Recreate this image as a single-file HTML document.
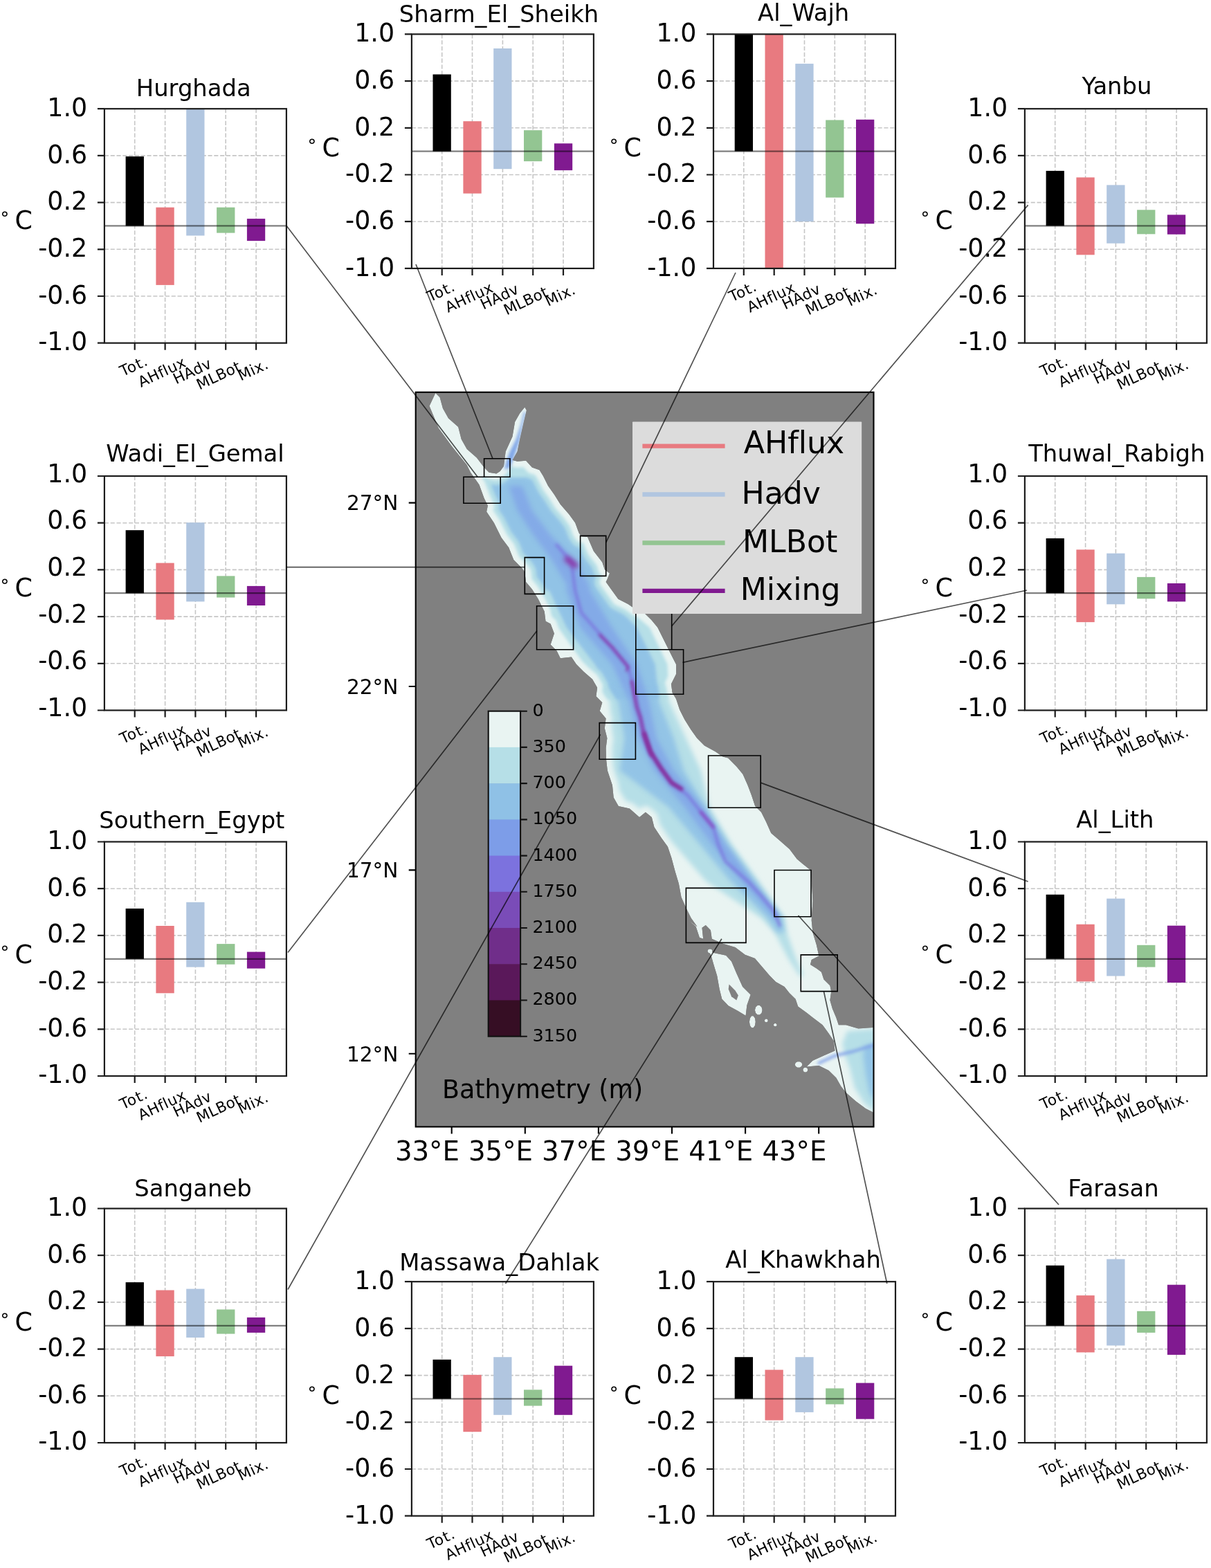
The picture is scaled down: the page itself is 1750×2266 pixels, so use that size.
<!DOCTYPE html>
<html lang="en"><head><meta charset="utf-8"><title>Red Sea mixed-layer heat budget</title>
<style>html,body{margin:0;padding:0;background:#fff;overflow:hidden}#fig{width:1750px;height:2266px;overflow:hidden}svg{display:block}</style></head><body><div id="fig">
<svg width="1750" height="2266" viewBox="0 0 1750 2266" font-family="'DejaVu Sans','Liberation Sans',sans-serif" fill="#000" style="font-variant-ligatures:none;font-kerning:normal">
<rect width="1750" height="2266" fill="#fff"/>
<g id="figure">
<g id="map">
<defs>
<clipPath id="mapclip"><rect x="600.7" y="566.8" width="661.8" height="1061.6"/></clipPath>
<clipPath id="seaclip"><path d="M629.3 568.0 L635.6 574.2 L640.0 590.2 L648.0 604.5 L662.2 616.9 L666.7 634.7 L674.7 648.9 L688.9 661.4 L699.6 675.6 L706.7 682.7 L717.4 684.5 L722.7 680.9 L728.0 673.8 L730.7 652.5 L740.5 631.1 L744.1 609.8 L751.2 597.3 L758.3 588.5 L760.9 592.9 L756.5 611.6 L751.2 634.7 L747.6 652.5 L740.5 664.9 L747.6 666.7 L760.1 665.8 L768.9 675.6 L779.6 679.2 L785.0 688.0 L792.1 702.3 L801.0 714.7 L809.9 728.9 L822.3 743.2 L831.2 755.6 L836.5 769.9 L840.1 775.2 L849.0 776.1 L857.9 796.5 L870.3 812.5 L873.9 823.2 L881.0 828.5 L877.4 837.4 L875.6 840.9 L884.5 853.4 L893.4 865.8 L907.6 872.9 L920.1 881.8 L930.7 885.4 L941.4 896.0 L950.3 906.7 L957.4 920.9 L964.5 935.2 L971.6 949.4 L977.0 960.1 L977.0 974.3 L969.9 988.5 L971.6 1001.0 L977.0 1009.9 L982.3 1025.9 L989.4 1040.1 L998.3 1054.3 L1007.2 1066.8 L1017.9 1077.4 L1033.9 1086.3 L1044.5 1093.4 L1052.1 1095.6 L1064.5 1108.0 L1073.4 1118.7 L1080.5 1134.7 L1085.9 1148.9 L1091.2 1164.9 L1100.1 1173.8 L1107.2 1188.0 L1114.3 1204.1 L1126.8 1214.7 L1141.0 1227.2 L1151.7 1241.4 L1160.0 1248.5 L1172.0 1258.0 L1174.5 1302.0 L1172.7 1330.0 L1174.5 1347.8 L1179.9 1365.6 L1183.4 1381.6 L1172.7 1386.9 L1171.0 1394.0 L1179.9 1399.4 L1187.0 1404.7 L1190.5 1415.4 L1199.4 1424.3 L1201.2 1433.1 L1199.4 1445.6 L1203.0 1458.0 L1208.3 1470.5 L1211.9 1481.2 L1222.5 1481.2 L1240.3 1486.5 L1265.2 1484.7 L1265.2 1609.2 L1251.0 1602.1 L1236.8 1591.4 L1222.5 1579.0 L1215.4 1570.1 L1208.3 1557.6 L1197.6 1547.0 L1183.4 1539.9 L1165.6 1541.6 L1174.5 1532.7 L1190.5 1525.6 L1206.5 1518.5 L1204.8 1504.3 L1197.6 1493.6 L1188.7 1481.2 L1174.5 1470.5 L1165.6 1463.4 L1153.2 1454.5 L1149.6 1443.8 L1140.7 1434.9 L1133.6 1426.0 L1121.2 1418.9 L1112.3 1410.0 L1101.6 1397.6 L1090.9 1385.1 L1076.7 1379.8 L1062.5 1369.1 L1044.7 1363.8 L1028.7 1356.7 L1026.9 1344.2 L1019.8 1337.1 L1014.5 1340.7 L1016.2 1356.7 L1010.9 1354.9 L1005.6 1338.9 L994.9 1330.0 L1007.6 1339.2 L998.7 1326.8 L991.6 1312.5 L984.5 1296.5 L980.9 1277.0 L975.6 1259.2 L970.3 1239.6 L964.9 1223.6 L956.0 1211.2 L945.4 1195.2 L941.8 1180.9 L932.9 1173.8 L924.0 1180.9 L909.8 1168.5 L893.8 1164.9 L886.7 1152.5 L884.9 1134.7 L877.8 1113.4 L876.0 1097.3 L875.6 1081.0 L877.4 1066.8 L873.8 1052.5 L875.6 1038.3 L866.7 1027.6 L870.3 1015.2 L861.4 1006.3 L863.1 993.8 L856.0 981.4 L843.6 970.7 L832.9 960.1 L825.8 949.4 L809.8 951.2 L804.5 940.5 L795.6 931.6 L800.9 915.6 L795.6 901.4 L788.5 897.8 L786.7 883.6 L777.8 865.8 L768.9 851.6 L760.0 840.9 L758.3 826.8 L754.7 821.4 L742.3 809.0 L735.2 791.2 L724.5 777.0 L713.8 755.6 L703.1 739.6 L704.9 730.7 L699.6 720.1 L692.5 700.5 L680.0 682.7 L674.7 672.0 L653.4 645.4 L633.8 618.7 L620.5 586.7ZM1023.4 1372.7 L1031.4 1377.1 L1049.1 1380.7 L1057.1 1389.6 L1064.3 1406.5 L1073.1 1426.0 L1084.7 1437.6 L1079.4 1452.7 L1077.6 1467.8 L1066.0 1460.7 L1052.7 1453.6 L1043.3 1443.8 L1039.7 1429.6 L1036.2 1410.0 L1030.8 1392.2 L1027.8 1381.6ZM1101.6 1459.8 L1100.6 1464.0 L1097.9 1466.6 L1094.6 1466.6 L1092.0 1464.0 L1090.9 1459.8 L1092.0 1455.6 L1094.6 1453.1 L1097.9 1453.1 L1100.6 1455.6ZM1091.8 1476.7 L1091.0 1481.9 L1088.7 1485.2 L1086.0 1485.2 L1083.8 1481.9 L1082.9 1476.7 L1083.8 1471.5 L1086.0 1468.3 L1088.7 1468.3 L1091.0 1471.5ZM1109.8 1474.9 L1109.3 1476.4 L1108.1 1477.3 L1106.5 1477.3 L1105.3 1476.4 L1104.8 1474.9 L1105.3 1473.5 L1106.5 1472.6 L1108.1 1472.6 L1109.3 1473.5ZM1122.8 1481.2 L1122.3 1482.4 L1121.0 1483.2 L1119.5 1483.2 L1118.3 1482.4 L1117.8 1481.2 L1118.3 1479.9 L1119.5 1479.1 L1121.0 1479.1 L1122.3 1479.9ZM1159.4 1538.4 L1158.4 1541.0 L1155.7 1542.7 L1152.4 1542.7 L1149.7 1541.0 L1148.7 1538.4 L1149.7 1535.8 L1152.4 1534.2 L1155.7 1534.2 L1158.4 1535.8ZM1167.4 1546.1 L1166.7 1548.2 L1164.9 1549.5 L1162.7 1549.5 L1161.0 1548.2 L1160.3 1546.1 L1161.0 1544.0 L1162.7 1542.7 L1164.9 1542.7 L1166.7 1544.0ZM1029.6 1374.5 L1028.9 1376.3 L1027.1 1377.5 L1024.9 1377.5 L1023.1 1376.3 L1022.5 1374.5 L1023.1 1372.6 L1024.9 1371.4 L1027.1 1371.4 L1028.9 1372.6Z"/></clipPath>
<filter id="b1" filterUnits="userSpaceOnUse" x="580" y="546" width="700" height="1100"><feGaussianBlur stdDeviation="5"/></filter>
<filter id="b2" filterUnits="userSpaceOnUse" x="580" y="546" width="700" height="1100"><feGaussianBlur stdDeviation="3.5"/></filter>
<filter id="b3" filterUnits="userSpaceOnUse" x="580" y="546" width="700" height="1100"><feGaussianBlur stdDeviation="2.2"/></filter>
<filter id="b0" filterUnits="userSpaceOnUse" x="580" y="546" width="700" height="1100"><feGaussianBlur stdDeviation="0.7"/></filter>
</defs>
<rect x="600.7" y="566.8" width="661.8" height="1061.6" fill="#808080"/>
<g clip-path="url(#mapclip)">
<g filter="url(#b0)">
<g clip-path="url(#seaclip)">
<path d="M629.3 568.0 L635.6 574.2 L640.0 590.2 L648.0 604.5 L662.2 616.9 L666.7 634.7 L674.7 648.9 L688.9 661.4 L699.6 675.6 L706.7 682.7 L717.4 684.5 L722.7 680.9 L728.0 673.8 L730.7 652.5 L740.5 631.1 L744.1 609.8 L751.2 597.3 L758.3 588.5 L760.9 592.9 L756.5 611.6 L751.2 634.7 L747.6 652.5 L740.5 664.9 L747.6 666.7 L760.1 665.8 L768.9 675.6 L779.6 679.2 L785.0 688.0 L792.1 702.3 L801.0 714.7 L809.9 728.9 L822.3 743.2 L831.2 755.6 L836.5 769.9 L840.1 775.2 L849.0 776.1 L857.9 796.5 L870.3 812.5 L873.9 823.2 L881.0 828.5 L877.4 837.4 L875.6 840.9 L884.5 853.4 L893.4 865.8 L907.6 872.9 L920.1 881.8 L930.7 885.4 L941.4 896.0 L950.3 906.7 L957.4 920.9 L964.5 935.2 L971.6 949.4 L977.0 960.1 L977.0 974.3 L969.9 988.5 L971.6 1001.0 L977.0 1009.9 L982.3 1025.9 L989.4 1040.1 L998.3 1054.3 L1007.2 1066.8 L1017.9 1077.4 L1033.9 1086.3 L1044.5 1093.4 L1052.1 1095.6 L1064.5 1108.0 L1073.4 1118.7 L1080.5 1134.7 L1085.9 1148.9 L1091.2 1164.9 L1100.1 1173.8 L1107.2 1188.0 L1114.3 1204.1 L1126.8 1214.7 L1141.0 1227.2 L1151.7 1241.4 L1160.0 1248.5 L1172.0 1258.0 L1174.5 1302.0 L1172.7 1330.0 L1174.5 1347.8 L1179.9 1365.6 L1183.4 1381.6 L1172.7 1386.9 L1171.0 1394.0 L1179.9 1399.4 L1187.0 1404.7 L1190.5 1415.4 L1199.4 1424.3 L1201.2 1433.1 L1199.4 1445.6 L1203.0 1458.0 L1208.3 1470.5 L1211.9 1481.2 L1222.5 1481.2 L1240.3 1486.5 L1265.2 1484.7 L1265.2 1609.2 L1251.0 1602.1 L1236.8 1591.4 L1222.5 1579.0 L1215.4 1570.1 L1208.3 1557.6 L1197.6 1547.0 L1183.4 1539.9 L1165.6 1541.6 L1174.5 1532.7 L1190.5 1525.6 L1206.5 1518.5 L1204.8 1504.3 L1197.6 1493.6 L1188.7 1481.2 L1174.5 1470.5 L1165.6 1463.4 L1153.2 1454.5 L1149.6 1443.8 L1140.7 1434.9 L1133.6 1426.0 L1121.2 1418.9 L1112.3 1410.0 L1101.6 1397.6 L1090.9 1385.1 L1076.7 1379.8 L1062.5 1369.1 L1044.7 1363.8 L1028.7 1356.7 L1026.9 1344.2 L1019.8 1337.1 L1014.5 1340.7 L1016.2 1356.7 L1010.9 1354.9 L1005.6 1338.9 L994.9 1330.0 L1007.6 1339.2 L998.7 1326.8 L991.6 1312.5 L984.5 1296.5 L980.9 1277.0 L975.6 1259.2 L970.3 1239.6 L964.9 1223.6 L956.0 1211.2 L945.4 1195.2 L941.8 1180.9 L932.9 1173.8 L924.0 1180.9 L909.8 1168.5 L893.8 1164.9 L886.7 1152.5 L884.9 1134.7 L877.8 1113.4 L876.0 1097.3 L875.6 1081.0 L877.4 1066.8 L873.8 1052.5 L875.6 1038.3 L866.7 1027.6 L870.3 1015.2 L861.4 1006.3 L863.1 993.8 L856.0 981.4 L843.6 970.7 L832.9 960.1 L825.8 949.4 L809.8 951.2 L804.5 940.5 L795.6 931.6 L800.9 915.6 L795.6 901.4 L788.5 897.8 L786.7 883.6 L777.8 865.8 L768.9 851.6 L760.0 840.9 L758.3 826.8 L754.7 821.4 L742.3 809.0 L735.2 791.2 L724.5 777.0 L713.8 755.6 L703.1 739.6 L704.9 730.7 L699.6 720.1 L692.5 700.5 L680.0 682.7 L674.7 672.0 L653.4 645.4 L633.8 618.7 L620.5 586.7ZM1023.4 1372.7 L1031.4 1377.1 L1049.1 1380.7 L1057.1 1389.6 L1064.3 1406.5 L1073.1 1426.0 L1084.7 1437.6 L1079.4 1452.7 L1077.6 1467.8 L1066.0 1460.7 L1052.7 1453.6 L1043.3 1443.8 L1039.7 1429.6 L1036.2 1410.0 L1030.8 1392.2 L1027.8 1381.6ZM1101.6 1459.8 L1100.6 1464.0 L1097.9 1466.6 L1094.6 1466.6 L1092.0 1464.0 L1090.9 1459.8 L1092.0 1455.6 L1094.6 1453.1 L1097.9 1453.1 L1100.6 1455.6ZM1091.8 1476.7 L1091.0 1481.9 L1088.7 1485.2 L1086.0 1485.2 L1083.8 1481.9 L1082.9 1476.7 L1083.8 1471.5 L1086.0 1468.3 L1088.7 1468.3 L1091.0 1471.5ZM1109.8 1474.9 L1109.3 1476.4 L1108.1 1477.3 L1106.5 1477.3 L1105.3 1476.4 L1104.8 1474.9 L1105.3 1473.5 L1106.5 1472.6 L1108.1 1472.6 L1109.3 1473.5ZM1122.8 1481.2 L1122.3 1482.4 L1121.0 1483.2 L1119.5 1483.2 L1118.3 1482.4 L1117.8 1481.2 L1118.3 1479.9 L1119.5 1479.1 L1121.0 1479.1 L1122.3 1479.9ZM1159.4 1538.4 L1158.4 1541.0 L1155.7 1542.7 L1152.4 1542.7 L1149.7 1541.0 L1148.7 1538.4 L1149.7 1535.8 L1152.4 1534.2 L1155.7 1534.2 L1158.4 1535.8ZM1167.4 1546.1 L1166.7 1548.2 L1164.9 1549.5 L1162.7 1549.5 L1161.0 1548.2 L1160.3 1546.1 L1161.0 1544.0 L1162.7 1542.7 L1164.9 1542.7 L1166.7 1544.0ZM1029.6 1374.5 L1028.9 1376.3 L1027.1 1377.5 L1024.9 1377.5 L1023.1 1376.3 L1022.5 1374.5 L1023.1 1372.6 L1024.9 1371.4 L1027.1 1371.4 L1028.9 1372.6Z" fill="#e9f4f2"/>
<path d="M700.3 696.0 L700.6 696.7 L700.9 697.4 L707.9 716.5 L713.0 726.7 L713.3 727.5 L713.6 728.3 L713.8 729.1 L713.9 730.0 L713.9 730.8 L713.9 731.7 L713.8 732.5 L712.7 737.7 L721.3 750.6 L721.9 751.6 L732.2 772.2 L742.4 785.8 L742.8 786.4 L743.2 787.1 L743.5 787.9 L749.9 803.9 L761.1 815.1 L761.7 815.7 L762.2 816.4 L765.8 821.8 L766.2 822.5 L766.6 823.2 L766.9 824.0 L767.1 824.8 L767.2 825.7 L768.6 837.2 L775.8 845.8 L776.5 846.8 L785.4 861.0 L785.8 861.8 L794.7 879.6 L795.1 880.5 L795.4 881.5 L795.6 882.5 L796.3 888.3 L799.0 893.0 L799.6 893.3 L800.3 893.7 L801.0 894.2 L801.7 894.7 L802.3 895.3 L802.8 896.0 L803.3 896.7 L803.7 897.4 L804.0 898.2 L807.8 908.5 L841.6 956.0 L849.7 964.1 L861.9 974.6 L862.6 975.3 L863.3 976.1 L863.8 976.9 L871.0 989.4 L871.3 990.1 L871.7 990.9 L871.9 991.7 L872.1 992.6 L872.1 993.4 L872.1 994.3 L872.1 995.1 L871.4 999.5 L878.6 1010.0 L966.6 1010.0 L963.9 1005.6 L963.5 1004.8 L963.1 1004.0 L962.9 1003.1 L962.7 1002.2 L960.9 989.8 L960.9 988.9 L960.9 988.0 L961.0 987.1 L961.2 986.2 L961.4 985.3 L961.8 984.5 L965.4 977.3 L964.5 960.1 L938.9 907.1 L938.2 906.3 L920.8 891.5 L917.2 890.3 L916.4 890.0 L915.6 889.6 L914.8 889.1 L903.0 880.6 L889.4 873.9 L888.6 873.4 L887.9 872.9 L887.2 872.4 L886.6 871.7 L886.1 871.0 L877.2 858.6 L868.3 846.1 L867.8 845.4 L867.4 844.6 L867.0 843.7 L866.8 842.8 L866.7 842.0 L866.6 841.1 L866.6 840.1 L866.7 839.3 L867.0 838.4 L867.3 837.5 L867.6 836.7 L869.3 833.6 L870.1 831.6 L868.5 830.4 L867.8 829.8 L867.1 829.2 L866.6 828.5 L866.1 827.7 L865.7 826.9 L865.3 826.1 L862.3 816.8 L850.8 802.1 L850.3 801.4 L849.9 800.8 L849.6 800.1 L842.8 784.5 L839.2 784.1 L838.3 784.0 L837.5 783.8 L836.6 783.5 L835.8 783.1 L835.1 782.7 L834.4 782.1 L833.7 781.5 L833.1 780.9 L832.6 780.2 L829.0 774.8 L828.5 774.0 L828.1 773.0 L823.2 759.9 L815.2 748.8 L803.1 734.9 L802.6 734.3 L802.2 733.7 L793.5 719.7 L784.7 707.5 L784.4 706.9 L784.0 706.3 L777.1 692.4 L773.6 686.6 L766.1 684.1 L765.2 683.8 L764.4 683.4 L763.7 682.9 L762.9 682.3 L762.3 681.7 L756.3 675.1 L748.2 675.7 L747.3 675.7 L746.4 675.6 L745.4 675.4 L738.3 673.7 L737.5 673.4 L737.2 673.3 L737.0 674.9 L736.8 675.9 L736.6 676.8 L736.2 677.6 L735.8 678.4 L735.2 679.2 L729.9 686.3 L729.3 687.1 L728.5 687.8 L727.7 688.4 L722.4 692.0 L721.6 692.4 L720.9 692.8 L720.1 693.1 L719.3 693.3 L718.4 693.4 L717.6 693.5 L716.7 693.5 L715.9 693.4 L705.2 691.6 L704.3 691.4 L703.4 691.1 L702.6 690.7 L701.8 690.2 L701.0 689.7 L700.3 689.1 L699.3 688.0 L696.1 690.0 L699.9 695.3 L700.3 696.0Z" fill="#b6dfe7" filter="url(#b3)" opacity="1"/>
<path d="M871.3 990.1 L871.7 990.9 L871.9 991.7 L872.1 992.6 L872.1 993.4 L872.1 994.3 L872.1 995.1 L871.4 999.5 L880.9 1013.4 L882.5 1032.6 L883.1 1033.3 L883.5 1034.1 L883.9 1034.9 L884.2 1035.8 L884.4 1036.7 L884.6 1037.6 L884.6 1038.5 L884.5 1039.4 L883.7 1046.3 L884.7 1059.1 L886.1 1064.6 L886.3 1065.4 L886.4 1066.2 L886.4 1067.0 L886.3 1067.9 L884.6 1081.4 L885.0 1096.7 L886.6 1111.4 L893.4 1131.8 L893.7 1132.8 L893.9 1133.8 L894.6 1141.4 L904.6 1158.1 L911.7 1159.7 L912.6 1159.9 L913.5 1160.3 L914.3 1160.7 L915.0 1161.2 L915.7 1161.7 L924.3 1169.2 L927.3 1166.8 L928.0 1166.3 L928.7 1165.8 L929.5 1165.5 L930.3 1165.2 L931.2 1165.0 L932.0 1164.9 L932.9 1164.8 L933.8 1164.9 L934.6 1165.0 L935.5 1165.2 L936.3 1165.5 L937.1 1165.8 L937.8 1166.3 L938.5 1166.8 L947.4 1173.9 L948.1 1174.5 L948.6 1175.1 L949.1 1175.7 L949.6 1176.4 L950.0 1177.2 L950.3 1177.9 L950.5 1178.7 L953.7 1191.5 L963.4 1206.1 L972.2 1218.4 L972.7 1219.1 L972.7 1219.2 L973.8 1220.1 L1020.1 1273.4 L1100.1 1326.8 L1119.4 1347.8 L1138.1 1383.4 L1155.0 1410.0 L1161.2 1410.0 L1149.6 1383.4 L1137.2 1347.8 L1133.9 1326.8 L1096.5 1273.4 L1057.4 1220.1 L1025.4 1166.7 L1012.9 1113.4 L991.2 1066.8 L977.7 1036.8 L974.3 1029.9 L973.8 1028.7 L972.9 1026.1 L967.2 1013.4 L967.1 1010.8 L963.9 1005.6 L963.5 1004.8 L963.1 1004.0 L962.9 1003.1 L962.7 1002.2 L961.0 990.0 L871.3 990.0 L871.3 990.1ZM1224.3 1490.1 L1265.2 1486.5 L1265.2 1607.4 L1249.2 1595.0 L1235.0 1571.9 L1227.9 1543.4 L1220.8 1525.6 L1217.2 1507.8Z" fill="#b6dfe7" filter="url(#b2)" opacity="1"/>
<path d="M719.7 723.3 L720.3 724.8 L720.8 726.3 L721.2 727.8 L721.4 729.3 L721.4 730.9 L721.3 732.4 L721.1 734.0 L720.7 736.2 L727.5 746.5 L728.6 748.2 L738.6 768.3 L748.4 781.3 L749.2 782.5 L749.9 783.7 L750.5 785.1 L756.3 799.7 L766.4 809.8 L767.5 811.0 L768.5 812.3 L772.0 817.6 L772.8 818.9 L773.5 820.3 L774.0 821.8 L774.4 823.2 L774.7 824.8 L775.8 834.1 L781.6 841.0 L782.9 842.8 L788.9 852.5 L793.8 853.4 L818.7 906.7 L859.6 960.1 L863.3 965.9 L866.8 968.9 L868.1 970.2 L869.3 971.6 L870.4 973.2 L877.5 985.7 L878.2 987.0 L878.8 988.5 L879.2 990.0 L879.5 991.4 L891.2 1010.0 L951.7 1010.0 L946.7 960.1 L920.1 906.7 L905.6 891.8 L899.1 887.1 L886.0 880.6 L884.6 879.8 L883.3 878.9 L882.1 877.8 L881.0 876.7 L880.0 875.4 L871.1 862.9 L862.2 850.5 L861.3 849.1 L860.5 847.6 L859.9 846.1 L859.5 844.5 L859.2 842.8 L859.1 841.2 L859.2 839.5 L859.4 837.9 L859.8 836.3 L860.3 834.7 L860.9 833.4 L860.5 832.9 L859.6 831.5 L858.8 830.0 L858.2 828.4 L855.6 820.4 L844.8 806.7 L844.0 805.5 L843.3 804.3 L842.7 803.1 L837.7 791.5 L836.8 791.4 L835.3 791.0 L833.8 790.4 L832.3 789.7 L830.9 788.9 L829.6 787.9 L828.4 786.8 L827.3 785.6 L826.4 784.3 L822.8 779.0 L821.8 777.4 L821.1 775.6 L816.5 763.5 L809.3 753.4 L797.4 739.8 L796.6 738.8 L795.9 737.7 L787.2 723.9 L778.6 711.9 L777.9 710.8 L777.3 709.7 L770.5 696.0 L768.6 692.9 L763.7 691.2 L762.2 690.6 L760.9 690.0 L736.5 690.0 L735.9 690.8 L734.7 692.3 L733.4 693.5 L731.9 694.7 L726.5 698.2 L725.2 699.0 L723.8 699.7 L722.3 700.2 L720.8 700.6 L719.3 700.9 L717.8 701.0 L716.2 700.9 L714.7 700.8 L709.8 700.0 L714.8 713.5 L719.7 723.3Z" fill="#8fc1e6" filter="url(#b3)" opacity="0.92"/>
<path d="M879.5 991.4 L893.4 1013.4 L902.3 1066.8 L895.6 1113.4 L966.7 1166.7 L1011.2 1220.1 L1055.6 1273.4 L1109.0 1326.8 L1122.9 1347.8 L1133.6 1347.8 L1130.3 1326.8 L1091.2 1273.4 L1052.1 1220.1 L1020.1 1166.7 L988.0 1113.4 L973.4 1066.8 L952.1 1013.4 L949.7 990.0 L879.2 990.0 L879.5 991.4ZM1249.2 1511.4 L1265.2 1507.8 L1265.2 1593.2 L1256.3 1579.0 L1251.0 1552.3 L1247.4 1525.6Z" fill="#8fc1e6" filter="url(#b2)" opacity="0.9"/>
<path d="M757.4 593.8 L752.9 613.4 L745.8 634.7 L736.9 652.5 L731.6 666.7 L728.9 679.2 L736.9 675.6 L743.2 659.6 L750.3 638.3 L755.1 616.9 L759.7 597.3Z" fill="#7fa6e8" filter="url(#b3)" opacity="1"/>
<path d="M747.6 737.8 L770.7 773.4 L797.4 809.0 L818.7 844.5 L818.7 853.4 L838.3 906.7 L884.5 960.1 L909.4 1013.4 L921.8 1066.8 L945.4 1113.4 L989.8 1166.7 L1028.9 1220.1 L1071.6 1273.4 L1118.8 1326.8 L1128.5 1326.8 L1087.6 1273.4 L1048.5 1220.1 L1016.5 1166.7 L973.8 1113.4 L948.5 1066.8 L937.8 1013.4 L920.1 960.1 L884.5 906.7 L852.5 853.4 L850.8 844.5 L831.2 809.0 L795.6 773.4 L768.9 737.8 L754.7 702.3 L735.2 702.3 L747.6 737.8Z" fill="#7d9de8" filter="url(#b2)" opacity="0.65"/>
<path d="M804.5 787.6 L825.9 812.5 L831.1 853.4 L840.0 885.4 L875.6 926.3 L907.6 963.6 L914.7 988.5 L923.6 1031.2 L932.5 1066.8 L940.0 1086.7 L956.0 1111.6 L970.3 1131.1 L993.4 1148.9 L1014.7 1175.6 L1030.7 1195.2 L1037.8 1220.1 L1048.5 1245.0 L1064.5 1259.2 L1082.3 1275.2 L1100.1 1294.8 L1117.9 1316.1 L1126.8 1337.4" fill="none" stroke="#7c72de" stroke-width="4.5" stroke-linecap="round" stroke-linejoin="round" filter="url(#b3)" opacity="0.75"/>
<path d="M819.6 808.1 L831.2 817.0" fill="none" stroke="#8a3aa8" stroke-width="9" stroke-linecap="round" stroke-linejoin="round" filter="url(#b2)" opacity="1"/>
<path d="M866.7 917.4 L884.5 935.2 L907.6 963.6 L905.8 968.9" fill="none" stroke="#8a3aa8" stroke-width="3.5" stroke-linecap="round" stroke-linejoin="round" filter="url(#b3)" opacity="0.9"/>
<path d="M912.9 985.0 L920.1 1022.3 L925.4 1036.5 L930.7 1063.2 L941.4 1091.7" fill="none" stroke="#8a3aa8" stroke-width="4.5" stroke-linecap="round" stroke-linejoin="round" filter="url(#b3)" opacity="0.9"/>
<path d="M931.1 1060.0 L940.0 1086.7 L956.0 1111.6 L970.3 1131.1 L984.5 1140.0" fill="none" stroke="#862f9c" stroke-width="6" stroke-linecap="round" stroke-linejoin="round" filter="url(#b3)" opacity="1"/>
<path d="M1012.9 1173.8 L1030.7 1195.2" fill="none" stroke="#8a4ac0" stroke-width="4.5" stroke-linecap="round" stroke-linejoin="round" filter="url(#b3)" opacity="0.8"/>
<path d="M1183.4 1536.3 L1206.5 1525.6 L1229.6 1520.3 L1265.2 1509.6" fill="none" stroke="#7d9de8" stroke-width="4" stroke-linecap="round" stroke-linejoin="round" filter="url(#b3)" opacity="0.9"/>
</g>
<path d="M1053.6 1422.5 L1062.5 1431.4 L1066.9 1438.5 L1064.3 1445.6 L1057.1 1440.3 L1052.7 1429.6Z" fill="#808080"/>
</g>
<path d="M699.6 662.8H737.0V689.2H699.6ZM669.9 689.2H723.2V727.3H669.9ZM838.6 774.4H875.7V832.4H838.6ZM758.3 805.6H786.6V858.4H758.3ZM775.6 875.7H828.6V938.7H775.6ZM918.8 880.0H970.7V938.7H918.8ZM918.8 938.7H987.6V1003.3H918.8ZM866.2 1044.6H918.4V1097.3H866.2ZM1023.6 1092.0H1099.2V1167.2H1023.6ZM1119.0 1257.5H1172.0V1324.8H1119.0ZM991.4 1283.4H1078.0V1362.4H991.4ZM1157.3 1379.9H1210.2V1432.6H1157.3Z" fill="none" stroke="#000" stroke-width="1.6"/>
<rect x="705.7" y="1027.70" width="46.4" height="52.82" fill="#e9f4f2"/>
<rect x="705.7" y="1079.92" width="46.4" height="52.82" fill="#b6dfe7"/>
<rect x="705.7" y="1132.14" width="46.4" height="52.82" fill="#8fc1e6"/>
<rect x="705.7" y="1184.37" width="46.4" height="52.82" fill="#7d9de8"/>
<rect x="705.7" y="1236.59" width="46.4" height="52.82" fill="#7c72de"/>
<rect x="705.7" y="1288.81" width="46.4" height="52.82" fill="#7a4cb8"/>
<rect x="705.7" y="1341.03" width="46.4" height="52.82" fill="#702e8a"/>
<rect x="705.7" y="1393.26" width="46.4" height="52.82" fill="#5a185a"/>
<rect x="705.7" y="1445.48" width="46.4" height="52.22" fill="#360e24"/>
<rect x="705.7" y="1027.7" width="46.4" height="470.0" fill="none" stroke="#111" stroke-width="2.1"/>
<path d="M752.1 1027.7h9.7M752.1 1079.9h9.7M752.1 1132.1h9.7M752.1 1184.4h9.7M752.1 1236.6h9.7M752.1 1288.8h9.7M752.1 1341.0h9.7M752.1 1393.3h9.7M752.1 1445.5h9.7M752.1 1497.7h9.7" stroke="#111" stroke-width="2.1" fill="none"/>
<text x="769.4" y="1034.6" font-size="25.5">0</text>
<text x="769.4" y="1086.8" font-size="25.5">350</text>
<text x="769.4" y="1139.0" font-size="25.5">700</text>
<text x="769.4" y="1191.3" font-size="25.5">1050</text>
<text x="769.4" y="1243.5" font-size="25.5">1400</text>
<text x="769.4" y="1295.7" font-size="25.5">1750</text>
<text x="769.4" y="1347.9" font-size="25.5">2100</text>
<text x="769.4" y="1400.2" font-size="25.5">2450</text>
<text x="769.4" y="1452.4" font-size="25.5">2800</text>
<text x="769.4" y="1504.6" font-size="25.5">3150</text>
<text x="639" y="1586.5" font-size="36.4">Bathymetry (m)</text>
<rect x="914.0" y="609.4" width="331.2" height="277.6" rx="0.8" fill="#dcdcdc"/>
<path d="M928.4 644.6H1047.6" stroke="#e87a80" stroke-width="6.4" fill="none"/>
<text x="1074.8" y="654.8" font-size="44.2">AHflux</text>
<path d="M928.4 714.5H1047.6" stroke="#b1c6e0" stroke-width="6.4" fill="none"/>
<text x="1071.5" y="727.9" font-size="44.2">Hadv</text>
<path d="M928.4 784.5H1047.6" stroke="#93c592" stroke-width="6.4" fill="none"/>
<text x="1073.0" y="798.1" font-size="44.2">MLBot</text>
<path d="M928.4 853.9H1047.6" stroke="#801a90" stroke-width="6.4" fill="none"/>
<text x="1069.7" y="866.9" font-size="44.2">Mixing</text>
</g>
<rect x="600.7" y="566.8" width="661.8" height="1061.6" fill="none" stroke="#000" stroke-width="2.1"/>
<text x="617.4" y="1676.6" font-size="38.7" text-anchor="middle">33°E</text>
<text x="723.5" y="1676.6" font-size="38.7" text-anchor="middle">35°E</text>
<text x="829.6" y="1676.6" font-size="38.7" text-anchor="middle">37°E</text>
<text x="935.7" y="1676.6" font-size="38.7" text-anchor="middle">39°E</text>
<text x="1041.8" y="1676.6" font-size="38.7" text-anchor="middle">41°E</text>
<text x="1147.9" y="1676.6" font-size="38.7" text-anchor="middle">43°E</text>
<text x="575.5" y="737.4" font-size="29.6" text-anchor="end">27°N</text>
<text x="575.5" y="1002.8" font-size="29.6" text-anchor="end">22°N</text>
<text x="575.5" y="1268.2" font-size="29.6" text-anchor="end">17°N</text>
<text x="575.5" y="1533.6" font-size="29.6" text-anchor="end">12°N</text>
<path d="M652.7 1628.4v10M758.8 1628.4v10M864.9 1628.4v10M971.0 1628.4v10M1077.1 1628.4v10M1183.2 1628.4v10M600.7 726.6h-10M600.7 992.0h-10M600.7 1257.4h-10M600.7 1522.8h-10" stroke="#000" stroke-width="2.1" fill="none"/>
</g>
<g class="panel">
<rect x="150.9" y="157.2" width="263.0" height="338.5" fill="#fff"/>
<path d="M194.7 157.2V495.7M238.6 157.2V495.7M282.4 157.2V495.7M326.2 157.2V495.7M370.1 157.2V495.7M150.9 224.9H413.9M150.9 292.6H413.9M150.9 360.3H413.9M150.9 428.0H413.9" fill="none" stroke="#b0b0b0" stroke-width="1.6" stroke-dasharray="6.1 2.7" opacity="0.72"/>
<rect x="181.6" y="226.1" width="26.3" height="100.4" fill="#000000"/>
<rect x="225.4" y="299.7" width="26.3" height="112.2" fill="#e87a80"/>
<rect x="269.2" y="157.2" width="26.3" height="183.3" fill="#b1c6e0"/>
<rect x="313.1" y="299.7" width="26.3" height="36.9" fill="#93c592"/>
<rect x="356.9" y="316.1" width="26.3" height="32.0" fill="#801a90"/>
<path d="M150.9 326.4H413.9" stroke="#000" stroke-opacity="0.5" stroke-width="2.2" fill="none"/>
<rect x="150.9" y="157.2" width="263.0" height="338.5" fill="none" stroke="#1c1c1c" stroke-width="2.2"/>
<path d="M194.7 495.7v10M238.6 495.7v10M282.4 495.7v10M326.2 495.7v10M370.1 495.7v10M150.9 157.2h-10M150.9 224.9h-10M150.9 292.6h-10M150.9 360.3h-10M150.9 428.0h-10M150.9 495.7h-10" stroke="#1c1c1c" stroke-width="2.2" fill="none"/>
<text x="126.2" y="167.8" font-size="36.4" text-anchor="end">1.0</text>
<text x="126.2" y="235.5" font-size="36.4" text-anchor="end">0.6</text>
<text x="126.2" y="303.2" font-size="36.4" text-anchor="end">0.2</text>
<text x="126.2" y="370.9" font-size="36.4" text-anchor="end">-0.2</text>
<text x="126.2" y="438.6" font-size="36.4" text-anchor="end">-0.6</text>
<text x="126.2" y="506.3" font-size="36.4" text-anchor="end">-1.0</text>
<text transform="translate(196.6,535.5) rotate(-25)" font-size="21.5" text-anchor="middle" letter-spacing="1.0">Tot.</text>
<text transform="translate(237.1,544.3) rotate(-25)" font-size="21.5" text-anchor="middle" letter-spacing="0.5">AHflux</text>
<text transform="translate(280.9,543.1) rotate(-25)" font-size="21.5" text-anchor="middle" letter-spacing="0.4">HAdv</text>
<text transform="translate(318.9,549.3) rotate(-25)" font-size="21.5" text-anchor="middle" letter-spacing="0.2">MLBot</text>
<text transform="translate(368.8,541.2) rotate(-25)" font-size="21.5" text-anchor="middle" letter-spacing="0.4">Mix.</text>
<text x="279.7" y="138.9" font-size="33.8" text-anchor="middle">Hurghada</text>
<text x="21.5" y="330.9" font-size="36.4">C</text>
<text x="0.6" y="323.9" font-size="25.5">°</text>
</g>
<g class="panel">
<rect x="594.9" y="49.4" width="263.0" height="338.5" fill="#fff"/>
<path d="M638.7 49.4V387.9M682.5 49.4V387.9M726.4 49.4V387.9M770.2 49.4V387.9M814.0 49.4V387.9M594.9 117.1H857.9M594.9 184.8H857.9M594.9 252.5H857.9M594.9 320.2H857.9" fill="none" stroke="#b0b0b0" stroke-width="1.6" stroke-dasharray="6.1 2.7" opacity="0.72"/>
<rect x="625.5" y="107.5" width="26.3" height="111.2" fill="#000000"/>
<rect x="669.4" y="175.2" width="26.3" height="104.4" fill="#e87a80"/>
<rect x="713.2" y="70.0" width="26.3" height="174.2" fill="#b1c6e0"/>
<rect x="757.0" y="188.2" width="26.3" height="44.9" fill="#93c592"/>
<rect x="800.9" y="207.3" width="26.3" height="38.8" fill="#801a90"/>
<path d="M594.9 218.7H857.9" stroke="#000" stroke-opacity="0.5" stroke-width="2.2" fill="none"/>
<rect x="594.9" y="49.4" width="263.0" height="338.5" fill="none" stroke="#1c1c1c" stroke-width="2.2"/>
<path d="M638.7 387.9v10M682.5 387.9v10M726.4 387.9v10M770.2 387.9v10M814.0 387.9v10M594.9 49.4h-10M594.9 117.1h-10M594.9 184.8h-10M594.9 252.5h-10M594.9 320.2h-10M594.9 387.9h-10" stroke="#1c1c1c" stroke-width="2.2" fill="none"/>
<text x="570.1" y="60.3" font-size="36.4" text-anchor="end">1.0</text>
<text x="570.1" y="128.0" font-size="36.4" text-anchor="end">0.6</text>
<text x="570.1" y="195.7" font-size="36.4" text-anchor="end">0.2</text>
<text x="570.1" y="263.4" font-size="36.4" text-anchor="end">-0.2</text>
<text x="570.1" y="331.1" font-size="36.4" text-anchor="end">-0.6</text>
<text x="570.1" y="398.8" font-size="36.4" text-anchor="end">-1.0</text>
<text transform="translate(640.6,427.7) rotate(-25)" font-size="21.5" text-anchor="middle" letter-spacing="1.0">Tot.</text>
<text transform="translate(681.0,436.5) rotate(-25)" font-size="21.5" text-anchor="middle" letter-spacing="0.5">AHflux</text>
<text transform="translate(724.9,435.3) rotate(-25)" font-size="21.5" text-anchor="middle" letter-spacing="0.4">HAdv</text>
<text transform="translate(762.9,441.5) rotate(-25)" font-size="21.5" text-anchor="middle" letter-spacing="0.2">MLBot</text>
<text transform="translate(812.7,433.4) rotate(-25)" font-size="21.5" text-anchor="middle" letter-spacing="0.4">Mix.</text>
<text x="721.0" y="31.9" font-size="33.8" text-anchor="middle">Sharm_El_Sheikh</text>
<text x="465.5" y="225.9" font-size="36.4">C</text>
<text x="444.6" y="218.9" font-size="25.5">°</text>
</g>
<g class="panel">
<rect x="1031.0" y="49.4" width="263.0" height="338.5" fill="#fff"/>
<path d="M1074.8 49.4V387.9M1118.7 49.4V387.9M1162.5 49.4V387.9M1206.3 49.4V387.9M1250.2 49.4V387.9M1031.0 117.1H1294.0M1031.0 184.8H1294.0M1031.0 252.5H1294.0M1031.0 320.2H1294.0" fill="none" stroke="#b0b0b0" stroke-width="1.6" stroke-dasharray="6.1 2.7" opacity="0.72"/>
<rect x="1061.7" y="49.4" width="26.3" height="169.2" fill="#000000"/>
<rect x="1105.5" y="49.4" width="26.3" height="338.5" fill="#e87a80"/>
<rect x="1149.3" y="92.1" width="26.3" height="228.0" fill="#b1c6e0"/>
<rect x="1193.2" y="173.5" width="26.3" height="112.0" fill="#93c592"/>
<rect x="1237.0" y="172.8" width="26.3" height="150.5" fill="#801a90"/>
<path d="M1031.0 218.7H1294.0" stroke="#000" stroke-opacity="0.5" stroke-width="2.2" fill="none"/>
<rect x="1031.0" y="49.4" width="263.0" height="338.5" fill="none" stroke="#1c1c1c" stroke-width="2.2"/>
<path d="M1074.8 387.9v10M1118.7 387.9v10M1162.5 387.9v10M1206.3 387.9v10M1250.2 387.9v10M1031.0 49.4h-10M1031.0 117.1h-10M1031.0 184.8h-10M1031.0 252.5h-10M1031.0 320.2h-10M1031.0 387.9h-10" stroke="#1c1c1c" stroke-width="2.2" fill="none"/>
<text x="1006.3" y="60.3" font-size="36.4" text-anchor="end">1.0</text>
<text x="1006.3" y="128.0" font-size="36.4" text-anchor="end">0.6</text>
<text x="1006.3" y="195.7" font-size="36.4" text-anchor="end">0.2</text>
<text x="1006.3" y="263.4" font-size="36.4" text-anchor="end">-0.2</text>
<text x="1006.3" y="331.1" font-size="36.4" text-anchor="end">-0.6</text>
<text x="1006.3" y="398.8" font-size="36.4" text-anchor="end">-1.0</text>
<text transform="translate(1076.7,427.7) rotate(-25)" font-size="21.5" text-anchor="middle" letter-spacing="1.0">Tot.</text>
<text transform="translate(1117.2,436.5) rotate(-25)" font-size="21.5" text-anchor="middle" letter-spacing="0.5">AHflux</text>
<text transform="translate(1161.0,435.3) rotate(-25)" font-size="21.5" text-anchor="middle" letter-spacing="0.4">HAdv</text>
<text transform="translate(1199.0,441.5) rotate(-25)" font-size="21.5" text-anchor="middle" letter-spacing="0.2">MLBot</text>
<text transform="translate(1248.9,433.4) rotate(-25)" font-size="21.5" text-anchor="middle" letter-spacing="0.4">Mix.</text>
<text x="1161.2" y="30.1" font-size="33.8" text-anchor="middle">Al_Wajh</text>
<text x="901.6" y="225.9" font-size="36.4">C</text>
<text x="880.7" y="218.9" font-size="25.5">°</text>
</g>
<g class="panel">
<rect x="1480.9" y="157.2" width="263.0" height="338.5" fill="#fff"/>
<path d="M1524.7 157.2V495.7M1568.6 157.2V495.7M1612.4 157.2V495.7M1656.2 157.2V495.7M1700.1 157.2V495.7M1480.9 224.9H1743.9M1480.9 292.6H1743.9M1480.9 360.3H1743.9M1480.9 428.0H1743.9" fill="none" stroke="#b0b0b0" stroke-width="1.6" stroke-dasharray="6.1 2.7" opacity="0.72"/>
<rect x="1511.6" y="246.9" width="26.3" height="79.5" fill="#000000"/>
<rect x="1555.4" y="256.4" width="26.3" height="111.9" fill="#e87a80"/>
<rect x="1599.2" y="267.4" width="26.3" height="84.3" fill="#b1c6e0"/>
<rect x="1643.1" y="303.3" width="26.3" height="35.0" fill="#93c592"/>
<rect x="1686.9" y="310.4" width="26.3" height="28.3" fill="#801a90"/>
<path d="M1480.9 326.4H1743.9" stroke="#000" stroke-opacity="0.5" stroke-width="2.2" fill="none"/>
<rect x="1480.9" y="157.2" width="263.0" height="338.5" fill="none" stroke="#1c1c1c" stroke-width="2.2"/>
<path d="M1524.7 495.7v10M1568.6 495.7v10M1612.4 495.7v10M1656.2 495.7v10M1700.1 495.7v10M1480.9 157.2h-10M1480.9 224.9h-10M1480.9 292.6h-10M1480.9 360.3h-10M1480.9 428.0h-10M1480.9 495.7h-10" stroke="#1c1c1c" stroke-width="2.2" fill="none"/>
<text x="1456.2" y="167.8" font-size="36.4" text-anchor="end">1.0</text>
<text x="1456.2" y="235.5" font-size="36.4" text-anchor="end">0.6</text>
<text x="1456.2" y="303.2" font-size="36.4" text-anchor="end">0.2</text>
<text x="1456.2" y="370.9" font-size="36.4" text-anchor="end">-0.2</text>
<text x="1456.2" y="438.6" font-size="36.4" text-anchor="end">-0.6</text>
<text x="1456.2" y="506.3" font-size="36.4" text-anchor="end">-1.0</text>
<text transform="translate(1526.6,535.5) rotate(-25)" font-size="21.5" text-anchor="middle" letter-spacing="1.0">Tot.</text>
<text transform="translate(1567.1,544.3) rotate(-25)" font-size="21.5" text-anchor="middle" letter-spacing="0.5">AHflux</text>
<text transform="translate(1610.9,543.1) rotate(-25)" font-size="21.5" text-anchor="middle" letter-spacing="0.4">HAdv</text>
<text transform="translate(1648.9,549.3) rotate(-25)" font-size="21.5" text-anchor="middle" letter-spacing="0.2">MLBot</text>
<text transform="translate(1698.8,541.2) rotate(-25)" font-size="21.5" text-anchor="middle" letter-spacing="0.4">Mix.</text>
<text x="1613.9" y="135.5" font-size="33.8" text-anchor="middle">Yanbu</text>
<text x="1351.5" y="330.9" font-size="36.4">C</text>
<text x="1330.6" y="323.9" font-size="25.5">°</text>
</g>
<g class="panel">
<rect x="150.9" y="688.0" width="263.0" height="338.5" fill="#fff"/>
<path d="M194.7 688.0V1026.5M238.6 688.0V1026.5M282.4 688.0V1026.5M326.2 688.0V1026.5M370.1 688.0V1026.5M150.9 755.7H413.9M150.9 823.4H413.9M150.9 891.1H413.9M150.9 958.8H413.9" fill="none" stroke="#b0b0b0" stroke-width="1.6" stroke-dasharray="6.1 2.7" opacity="0.72"/>
<rect x="181.6" y="766.2" width="26.3" height="91.1" fill="#000000"/>
<rect x="225.4" y="813.6" width="26.3" height="81.9" fill="#e87a80"/>
<rect x="269.2" y="755.2" width="26.3" height="114.2" fill="#b1c6e0"/>
<rect x="313.1" y="832.4" width="26.3" height="31.1" fill="#93c592"/>
<rect x="356.9" y="846.9" width="26.3" height="28.1" fill="#801a90"/>
<path d="M150.9 857.2H413.9" stroke="#000" stroke-opacity="0.5" stroke-width="2.2" fill="none"/>
<rect x="150.9" y="688.0" width="263.0" height="338.5" fill="none" stroke="#1c1c1c" stroke-width="2.2"/>
<path d="M194.7 1026.5v10M238.6 1026.5v10M282.4 1026.5v10M326.2 1026.5v10M370.1 1026.5v10M150.9 688.0h-10M150.9 755.7h-10M150.9 823.4h-10M150.9 891.1h-10M150.9 958.8h-10M150.9 1026.5h-10" stroke="#1c1c1c" stroke-width="2.2" fill="none"/>
<text x="126.2" y="696.5" font-size="36.4" text-anchor="end">1.0</text>
<text x="126.2" y="764.2" font-size="36.4" text-anchor="end">0.6</text>
<text x="126.2" y="831.9" font-size="36.4" text-anchor="end">0.2</text>
<text x="126.2" y="899.6" font-size="36.4" text-anchor="end">-0.2</text>
<text x="126.2" y="967.3" font-size="36.4" text-anchor="end">-0.6</text>
<text x="126.2" y="1035.0" font-size="36.4" text-anchor="end">-1.0</text>
<text transform="translate(196.6,1066.3) rotate(-25)" font-size="21.5" text-anchor="middle" letter-spacing="1.0">Tot.</text>
<text transform="translate(237.1,1075.1) rotate(-25)" font-size="21.5" text-anchor="middle" letter-spacing="0.5">AHflux</text>
<text transform="translate(280.9,1073.9) rotate(-25)" font-size="21.5" text-anchor="middle" letter-spacing="0.4">HAdv</text>
<text transform="translate(318.9,1080.1) rotate(-25)" font-size="21.5" text-anchor="middle" letter-spacing="0.2">MLBot</text>
<text transform="translate(368.8,1072.0) rotate(-25)" font-size="21.5" text-anchor="middle" letter-spacing="0.4">Mix.</text>
<text x="282.0" y="667.4" font-size="33.8" text-anchor="middle">Wadi_El_Gemal</text>
<text x="21.5" y="861.7" font-size="36.4">C</text>
<text x="0.6" y="854.7" font-size="25.5">°</text>
</g>
<g class="panel">
<rect x="1480.9" y="688.0" width="263.0" height="338.5" fill="#fff"/>
<path d="M1524.7 688.0V1026.5M1568.6 688.0V1026.5M1612.4 688.0V1026.5M1656.2 688.0V1026.5M1700.1 688.0V1026.5M1480.9 755.7H1743.9M1480.9 823.4H1743.9M1480.9 891.1H1743.9M1480.9 958.8H1743.9" fill="none" stroke="#b0b0b0" stroke-width="1.6" stroke-dasharray="6.1 2.7" opacity="0.72"/>
<rect x="1511.6" y="778.0" width="26.3" height="79.2" fill="#000000"/>
<rect x="1555.4" y="794.3" width="26.3" height="104.8" fill="#e87a80"/>
<rect x="1599.2" y="799.7" width="26.3" height="73.6" fill="#b1c6e0"/>
<rect x="1643.1" y="833.9" width="26.3" height="31.3" fill="#93c592"/>
<rect x="1686.9" y="843.0" width="26.3" height="26.4" fill="#801a90"/>
<path d="M1480.9 857.2H1743.9" stroke="#000" stroke-opacity="0.5" stroke-width="2.2" fill="none"/>
<rect x="1480.9" y="688.0" width="263.0" height="338.5" fill="none" stroke="#1c1c1c" stroke-width="2.2"/>
<path d="M1524.7 1026.5v10M1568.6 1026.5v10M1612.4 1026.5v10M1656.2 1026.5v10M1700.1 1026.5v10M1480.9 688.0h-10M1480.9 755.7h-10M1480.9 823.4h-10M1480.9 891.1h-10M1480.9 958.8h-10M1480.9 1026.5h-10" stroke="#1c1c1c" stroke-width="2.2" fill="none"/>
<text x="1456.2" y="696.5" font-size="36.4" text-anchor="end">1.0</text>
<text x="1456.2" y="764.2" font-size="36.4" text-anchor="end">0.6</text>
<text x="1456.2" y="831.9" font-size="36.4" text-anchor="end">0.2</text>
<text x="1456.2" y="899.6" font-size="36.4" text-anchor="end">-0.2</text>
<text x="1456.2" y="967.3" font-size="36.4" text-anchor="end">-0.6</text>
<text x="1456.2" y="1035.0" font-size="36.4" text-anchor="end">-1.0</text>
<text transform="translate(1526.6,1066.3) rotate(-25)" font-size="21.5" text-anchor="middle" letter-spacing="1.0">Tot.</text>
<text transform="translate(1567.1,1075.1) rotate(-25)" font-size="21.5" text-anchor="middle" letter-spacing="0.5">AHflux</text>
<text transform="translate(1610.9,1073.9) rotate(-25)" font-size="21.5" text-anchor="middle" letter-spacing="0.4">HAdv</text>
<text transform="translate(1648.9,1080.1) rotate(-25)" font-size="21.5" text-anchor="middle" letter-spacing="0.2">MLBot</text>
<text transform="translate(1698.8,1072.0) rotate(-25)" font-size="21.5" text-anchor="middle" letter-spacing="0.4">Mix.</text>
<text x="1613.8" y="666.5" font-size="33.8" text-anchor="middle">Thuwal_Rabigh</text>
<text x="1351.5" y="861.7" font-size="36.4">C</text>
<text x="1330.6" y="854.7" font-size="25.5">°</text>
</g>
<g class="panel">
<rect x="150.9" y="1216.5" width="263.0" height="338.5" fill="#fff"/>
<path d="M194.7 1216.5V1555.0M238.6 1216.5V1555.0M282.4 1216.5V1555.0M326.2 1216.5V1555.0M370.1 1216.5V1555.0M150.9 1284.2H413.9M150.9 1351.9H413.9M150.9 1419.6H413.9M150.9 1487.3H413.9" fill="none" stroke="#b0b0b0" stroke-width="1.6" stroke-dasharray="6.1 2.7" opacity="0.72"/>
<rect x="181.6" y="1313.0" width="26.3" height="72.8" fill="#000000"/>
<rect x="225.4" y="1338.0" width="26.3" height="97.3" fill="#e87a80"/>
<rect x="269.2" y="1303.8" width="26.3" height="93.8" fill="#b1c6e0"/>
<rect x="313.1" y="1364.1" width="26.3" height="29.6" fill="#93c592"/>
<rect x="356.9" y="1375.6" width="26.3" height="24.0" fill="#801a90"/>
<path d="M150.9 1385.8H413.9" stroke="#000" stroke-opacity="0.5" stroke-width="2.2" fill="none"/>
<rect x="150.9" y="1216.5" width="263.0" height="338.5" fill="none" stroke="#1c1c1c" stroke-width="2.2"/>
<path d="M194.7 1555.0v10M238.6 1555.0v10M282.4 1555.0v10M326.2 1555.0v10M370.1 1555.0v10M150.9 1216.5h-10M150.9 1284.2h-10M150.9 1351.9h-10M150.9 1419.6h-10M150.9 1487.3h-10M150.9 1555.0h-10" stroke="#1c1c1c" stroke-width="2.2" fill="none"/>
<text x="126.2" y="1226.9" font-size="36.4" text-anchor="end">1.0</text>
<text x="126.2" y="1294.6" font-size="36.4" text-anchor="end">0.6</text>
<text x="126.2" y="1362.3" font-size="36.4" text-anchor="end">0.2</text>
<text x="126.2" y="1430.0" font-size="36.4" text-anchor="end">-0.2</text>
<text x="126.2" y="1497.7" font-size="36.4" text-anchor="end">-0.6</text>
<text x="126.2" y="1565.4" font-size="36.4" text-anchor="end">-1.0</text>
<text transform="translate(196.6,1594.8) rotate(-25)" font-size="21.5" text-anchor="middle" letter-spacing="1.0">Tot.</text>
<text transform="translate(237.1,1603.6) rotate(-25)" font-size="21.5" text-anchor="middle" letter-spacing="0.5">AHflux</text>
<text transform="translate(280.9,1602.4) rotate(-25)" font-size="21.5" text-anchor="middle" letter-spacing="0.4">HAdv</text>
<text transform="translate(318.9,1608.6) rotate(-25)" font-size="21.5" text-anchor="middle" letter-spacing="0.2">MLBot</text>
<text transform="translate(368.8,1600.5) rotate(-25)" font-size="21.5" text-anchor="middle" letter-spacing="0.4">Mix.</text>
<text x="277.3" y="1197.4" font-size="33.8" text-anchor="middle">Southern_Egypt</text>
<text x="21.5" y="1392.2" font-size="36.4">C</text>
<text x="0.6" y="1385.2" font-size="25.5">°</text>
</g>
<g class="panel">
<rect x="1480.9" y="1216.5" width="263.0" height="338.5" fill="#fff"/>
<path d="M1524.7 1216.5V1555.0M1568.6 1216.5V1555.0M1612.4 1216.5V1555.0M1656.2 1216.5V1555.0M1700.1 1216.5V1555.0M1480.9 1284.2H1743.9M1480.9 1351.9H1743.9M1480.9 1419.6H1743.9M1480.9 1487.3H1743.9" fill="none" stroke="#b0b0b0" stroke-width="1.6" stroke-dasharray="6.1 2.7" opacity="0.72"/>
<rect x="1511.6" y="1292.8" width="26.3" height="92.9" fill="#000000"/>
<rect x="1555.4" y="1335.8" width="26.3" height="82.6" fill="#e87a80"/>
<rect x="1599.2" y="1298.6" width="26.3" height="111.9" fill="#b1c6e0"/>
<rect x="1643.1" y="1365.8" width="26.3" height="31.8" fill="#93c592"/>
<rect x="1686.9" y="1337.7" width="26.3" height="82.3" fill="#801a90"/>
<path d="M1480.9 1385.8H1743.9" stroke="#000" stroke-opacity="0.5" stroke-width="2.2" fill="none"/>
<rect x="1480.9" y="1216.5" width="263.0" height="338.5" fill="none" stroke="#1c1c1c" stroke-width="2.2"/>
<path d="M1524.7 1555.0v10M1568.6 1555.0v10M1612.4 1555.0v10M1656.2 1555.0v10M1700.1 1555.0v10M1480.9 1216.5h-10M1480.9 1284.2h-10M1480.9 1351.9h-10M1480.9 1419.6h-10M1480.9 1487.3h-10M1480.9 1555.0h-10" stroke="#1c1c1c" stroke-width="2.2" fill="none"/>
<text x="1456.2" y="1226.9" font-size="36.4" text-anchor="end">1.0</text>
<text x="1456.2" y="1294.6" font-size="36.4" text-anchor="end">0.6</text>
<text x="1456.2" y="1362.3" font-size="36.4" text-anchor="end">0.2</text>
<text x="1456.2" y="1430.0" font-size="36.4" text-anchor="end">-0.2</text>
<text x="1456.2" y="1497.7" font-size="36.4" text-anchor="end">-0.6</text>
<text x="1456.2" y="1565.4" font-size="36.4" text-anchor="end">-1.0</text>
<text transform="translate(1526.6,1594.8) rotate(-25)" font-size="21.5" text-anchor="middle" letter-spacing="1.0">Tot.</text>
<text transform="translate(1567.1,1603.6) rotate(-25)" font-size="21.5" text-anchor="middle" letter-spacing="0.5">AHflux</text>
<text transform="translate(1610.9,1602.4) rotate(-25)" font-size="21.5" text-anchor="middle" letter-spacing="0.4">HAdv</text>
<text transform="translate(1648.9,1608.6) rotate(-25)" font-size="21.5" text-anchor="middle" letter-spacing="0.2">MLBot</text>
<text transform="translate(1698.8,1600.5) rotate(-25)" font-size="21.5" text-anchor="middle" letter-spacing="0.4">Mix.</text>
<text x="1611.3" y="1196.0" font-size="33.8" text-anchor="middle">Al_Lith</text>
<text x="1351.5" y="1392.2" font-size="36.4">C</text>
<text x="1330.6" y="1385.2" font-size="25.5">°</text>
</g>
<g class="panel">
<rect x="150.9" y="1746.5" width="263.0" height="338.5" fill="#fff"/>
<path d="M194.7 1746.5V2085.0M238.6 1746.5V2085.0M282.4 1746.5V2085.0M326.2 1746.5V2085.0M370.1 1746.5V2085.0M150.9 1814.2H413.9M150.9 1881.9H413.9M150.9 1949.6H413.9M150.9 2017.3H413.9" fill="none" stroke="#b0b0b0" stroke-width="1.6" stroke-dasharray="6.1 2.7" opacity="0.72"/>
<rect x="181.6" y="1853.1" width="26.3" height="62.6" fill="#000000"/>
<rect x="225.4" y="1864.5" width="26.3" height="95.6" fill="#e87a80"/>
<rect x="269.2" y="1862.6" width="26.3" height="70.4" fill="#b1c6e0"/>
<rect x="313.1" y="1892.4" width="26.3" height="35.2" fill="#93c592"/>
<rect x="356.9" y="1903.9" width="26.3" height="22.0" fill="#801a90"/>
<path d="M150.9 1915.8H413.9" stroke="#000" stroke-opacity="0.5" stroke-width="2.2" fill="none"/>
<rect x="150.9" y="1746.5" width="263.0" height="338.5" fill="none" stroke="#1c1c1c" stroke-width="2.2"/>
<path d="M194.7 2085.0v10M238.6 2085.0v10M282.4 2085.0v10M326.2 2085.0v10M370.1 2085.0v10M150.9 1746.5h-10M150.9 1814.2h-10M150.9 1881.9h-10M150.9 1949.6h-10M150.9 2017.3h-10M150.9 2085.0h-10" stroke="#1c1c1c" stroke-width="2.2" fill="none"/>
<text x="126.2" y="1756.8" font-size="36.4" text-anchor="end">1.0</text>
<text x="126.2" y="1824.5" font-size="36.4" text-anchor="end">0.6</text>
<text x="126.2" y="1892.2" font-size="36.4" text-anchor="end">0.2</text>
<text x="126.2" y="1959.9" font-size="36.4" text-anchor="end">-0.2</text>
<text x="126.2" y="2027.6" font-size="36.4" text-anchor="end">-0.6</text>
<text x="126.2" y="2095.3" font-size="36.4" text-anchor="end">-1.0</text>
<text transform="translate(196.6,2124.8) rotate(-25)" font-size="21.5" text-anchor="middle" letter-spacing="1.0">Tot.</text>
<text transform="translate(237.1,2133.6) rotate(-25)" font-size="21.5" text-anchor="middle" letter-spacing="0.5">AHflux</text>
<text transform="translate(280.9,2132.4) rotate(-25)" font-size="21.5" text-anchor="middle" letter-spacing="0.4">HAdv</text>
<text transform="translate(318.9,2138.6) rotate(-25)" font-size="21.5" text-anchor="middle" letter-spacing="0.2">MLBot</text>
<text transform="translate(368.8,2130.5) rotate(-25)" font-size="21.5" text-anchor="middle" letter-spacing="0.4">Mix.</text>
<text x="279.0" y="1728.5" font-size="33.8" text-anchor="middle">Sanganeb</text>
<text x="21.5" y="1923.3" font-size="36.4">C</text>
<text x="0.6" y="1916.4" font-size="25.5">°</text>
</g>
<g class="panel">
<rect x="1480.9" y="1746.5" width="263.0" height="338.5" fill="#fff"/>
<path d="M1524.7 1746.5V2085.0M1568.6 1746.5V2085.0M1612.4 1746.5V2085.0M1656.2 1746.5V2085.0M1700.1 1746.5V2085.0M1480.9 1814.2H1743.9M1480.9 1881.9H1743.9M1480.9 1949.6H1743.9M1480.9 2017.3H1743.9" fill="none" stroke="#b0b0b0" stroke-width="1.6" stroke-dasharray="6.1 2.7" opacity="0.72"/>
<rect x="1511.6" y="1828.8" width="26.3" height="87.0" fill="#000000"/>
<rect x="1555.4" y="1872.1" width="26.3" height="82.3" fill="#e87a80"/>
<rect x="1599.2" y="1819.6" width="26.3" height="124.9" fill="#b1c6e0"/>
<rect x="1643.1" y="1894.8" width="26.3" height="31.1" fill="#93c592"/>
<rect x="1686.9" y="1856.7" width="26.3" height="101.2" fill="#801a90"/>
<path d="M1480.9 1915.8H1743.9" stroke="#000" stroke-opacity="0.5" stroke-width="2.2" fill="none"/>
<rect x="1480.9" y="1746.5" width="263.0" height="338.5" fill="none" stroke="#1c1c1c" stroke-width="2.2"/>
<path d="M1524.7 2085.0v10M1568.6 2085.0v10M1612.4 2085.0v10M1656.2 2085.0v10M1700.1 2085.0v10M1480.9 1746.5h-10M1480.9 1814.2h-10M1480.9 1881.9h-10M1480.9 1949.6h-10M1480.9 2017.3h-10M1480.9 2085.0h-10" stroke="#1c1c1c" stroke-width="2.2" fill="none"/>
<text x="1456.2" y="1756.8" font-size="36.4" text-anchor="end">1.0</text>
<text x="1456.2" y="1824.5" font-size="36.4" text-anchor="end">0.6</text>
<text x="1456.2" y="1892.2" font-size="36.4" text-anchor="end">0.2</text>
<text x="1456.2" y="1959.9" font-size="36.4" text-anchor="end">-0.2</text>
<text x="1456.2" y="2027.6" font-size="36.4" text-anchor="end">-0.6</text>
<text x="1456.2" y="2095.3" font-size="36.4" text-anchor="end">-1.0</text>
<text transform="translate(1526.6,2124.8) rotate(-25)" font-size="21.5" text-anchor="middle" letter-spacing="1.0">Tot.</text>
<text transform="translate(1567.1,2133.6) rotate(-25)" font-size="21.5" text-anchor="middle" letter-spacing="0.5">AHflux</text>
<text transform="translate(1610.9,2132.4) rotate(-25)" font-size="21.5" text-anchor="middle" letter-spacing="0.4">HAdv</text>
<text transform="translate(1648.9,2138.6) rotate(-25)" font-size="21.5" text-anchor="middle" letter-spacing="0.2">MLBot</text>
<text transform="translate(1698.8,2130.5) rotate(-25)" font-size="21.5" text-anchor="middle" letter-spacing="0.4">Mix.</text>
<text x="1609.0" y="1728.5" font-size="33.8" text-anchor="middle">Farasan</text>
<text x="1351.5" y="1923.3" font-size="36.4">C</text>
<text x="1330.6" y="1916.4" font-size="25.5">°</text>
</g>
<g class="panel">
<rect x="594.9" y="1852.2" width="263.0" height="338.5" fill="#fff"/>
<path d="M638.7 1852.2V2190.7M682.5 1852.2V2190.7M726.4 1852.2V2190.7M770.2 1852.2V2190.7M814.0 1852.2V2190.7M594.9 1919.9H857.9M594.9 1987.6H857.9M594.9 2055.3H857.9M594.9 2123.0H857.9" fill="none" stroke="#b0b0b0" stroke-width="1.6" stroke-dasharray="6.1 2.7" opacity="0.72"/>
<rect x="625.5" y="1964.8" width="26.3" height="56.7" fill="#000000"/>
<rect x="669.4" y="1986.9" width="26.3" height="82.3" fill="#e87a80"/>
<rect x="713.2" y="1961.2" width="26.3" height="83.6" fill="#b1c6e0"/>
<rect x="757.0" y="2008.4" width="26.3" height="23.2" fill="#93c592"/>
<rect x="800.9" y="1973.7" width="26.3" height="71.1" fill="#801a90"/>
<path d="M594.9 2021.5H857.9" stroke="#000" stroke-opacity="0.5" stroke-width="2.2" fill="none"/>
<rect x="594.9" y="1852.2" width="263.0" height="338.5" fill="none" stroke="#1c1c1c" stroke-width="2.2"/>
<path d="M638.7 2190.7v10M682.5 2190.7v10M726.4 2190.7v10M770.2 2190.7v10M814.0 2190.7v10M594.9 1852.2h-10M594.9 1919.9h-10M594.9 1987.6h-10M594.9 2055.3h-10M594.9 2123.0h-10M594.9 2190.7h-10" stroke="#1c1c1c" stroke-width="2.2" fill="none"/>
<text x="570.1" y="1863.1" font-size="36.4" text-anchor="end">1.0</text>
<text x="570.1" y="1930.8" font-size="36.4" text-anchor="end">0.6</text>
<text x="570.1" y="1998.5" font-size="36.4" text-anchor="end">0.2</text>
<text x="570.1" y="2066.2" font-size="36.4" text-anchor="end">-0.2</text>
<text x="570.1" y="2133.9" font-size="36.4" text-anchor="end">-0.6</text>
<text x="570.1" y="2201.6" font-size="36.4" text-anchor="end">-1.0</text>
<text transform="translate(640.6,2230.5) rotate(-25)" font-size="21.5" text-anchor="middle" letter-spacing="1.0">Tot.</text>
<text transform="translate(681.0,2239.3) rotate(-25)" font-size="21.5" text-anchor="middle" letter-spacing="0.5">AHflux</text>
<text transform="translate(724.9,2238.1) rotate(-25)" font-size="21.5" text-anchor="middle" letter-spacing="0.4">HAdv</text>
<text transform="translate(762.9,2244.3) rotate(-25)" font-size="21.5" text-anchor="middle" letter-spacing="0.2">MLBot</text>
<text transform="translate(812.7,2236.2) rotate(-25)" font-size="21.5" text-anchor="middle" letter-spacing="0.4">Mix.</text>
<text x="721.6" y="1835.5" font-size="33.8" text-anchor="middle">Massawa_Dahlak</text>
<text x="465.5" y="2028.7" font-size="36.4">C</text>
<text x="444.6" y="2021.7" font-size="25.5">°</text>
</g>
<g class="panel">
<rect x="1031.0" y="1852.2" width="263.0" height="338.5" fill="#fff"/>
<path d="M1074.8 1852.2V2190.7M1118.7 1852.2V2190.7M1162.5 1852.2V2190.7M1206.3 1852.2V2190.7M1250.2 1852.2V2190.7M1031.0 1919.9H1294.0M1031.0 1987.6H1294.0M1031.0 2055.3H1294.0M1031.0 2123.0H1294.0" fill="none" stroke="#b0b0b0" stroke-width="1.6" stroke-dasharray="6.1 2.7" opacity="0.72"/>
<rect x="1061.7" y="1961.2" width="26.3" height="60.3" fill="#000000"/>
<rect x="1105.5" y="1979.6" width="26.3" height="72.9" fill="#e87a80"/>
<rect x="1149.3" y="1961.2" width="26.3" height="79.7" fill="#b1c6e0"/>
<rect x="1193.2" y="2006.4" width="26.3" height="23.0" fill="#93c592"/>
<rect x="1237.0" y="1998.6" width="26.3" height="52.1" fill="#801a90"/>
<path d="M1031.0 2021.5H1294.0" stroke="#000" stroke-opacity="0.5" stroke-width="2.2" fill="none"/>
<rect x="1031.0" y="1852.2" width="263.0" height="338.5" fill="none" stroke="#1c1c1c" stroke-width="2.2"/>
<path d="M1074.8 2190.7v10M1118.7 2190.7v10M1162.5 2190.7v10M1206.3 2190.7v10M1250.2 2190.7v10M1031.0 1852.2h-10M1031.0 1919.9h-10M1031.0 1987.6h-10M1031.0 2055.3h-10M1031.0 2123.0h-10M1031.0 2190.7h-10" stroke="#1c1c1c" stroke-width="2.2" fill="none"/>
<text x="1006.3" y="1863.1" font-size="36.4" text-anchor="end">1.0</text>
<text x="1006.3" y="1930.8" font-size="36.4" text-anchor="end">0.6</text>
<text x="1006.3" y="1998.5" font-size="36.4" text-anchor="end">0.2</text>
<text x="1006.3" y="2066.2" font-size="36.4" text-anchor="end">-0.2</text>
<text x="1006.3" y="2133.9" font-size="36.4" text-anchor="end">-0.6</text>
<text x="1006.3" y="2201.6" font-size="36.4" text-anchor="end">-1.0</text>
<text transform="translate(1076.7,2230.5) rotate(-25)" font-size="21.5" text-anchor="middle" letter-spacing="1.0">Tot.</text>
<text transform="translate(1117.2,2239.3) rotate(-25)" font-size="21.5" text-anchor="middle" letter-spacing="0.5">AHflux</text>
<text transform="translate(1161.0,2238.1) rotate(-25)" font-size="21.5" text-anchor="middle" letter-spacing="0.4">HAdv</text>
<text transform="translate(1199.0,2244.3) rotate(-25)" font-size="21.5" text-anchor="middle" letter-spacing="0.2">MLBot</text>
<text transform="translate(1248.9,2236.2) rotate(-25)" font-size="21.5" text-anchor="middle" letter-spacing="0.4">Mix.</text>
<text x="1160.6" y="1832.1" font-size="33.8" text-anchor="middle">Al_Khawkhah</text>
<text x="901.6" y="2028.7" font-size="36.4">C</text>
<text x="880.7" y="2021.7" font-size="25.5">°</text>
</g>
<path id="connectors" d="M414.0 326.2L690.0 689.0M601.0 382.0L712.0 662.8M1063.0 394.0L875.7 784.0M1485.6 296.4L970.5 905.0M1484.0 853.0L986.5 957.3M414.0 819.6L758.3 819.6M416.0 1376.5L776.0 911.5M416.0 1863.5L867.6 1061.4M730.5 1855.0L1042.9 1356.7M1281.8 1855.0L1190.5 1433.0M1530.0 1741.0L1153.5 1323.0M1485.6 1274.0L1099.2 1131.1" stroke="#000" stroke-opacity="0.68" stroke-width="1.7" fill="none"/>
</g>
</svg></div></body></html>
